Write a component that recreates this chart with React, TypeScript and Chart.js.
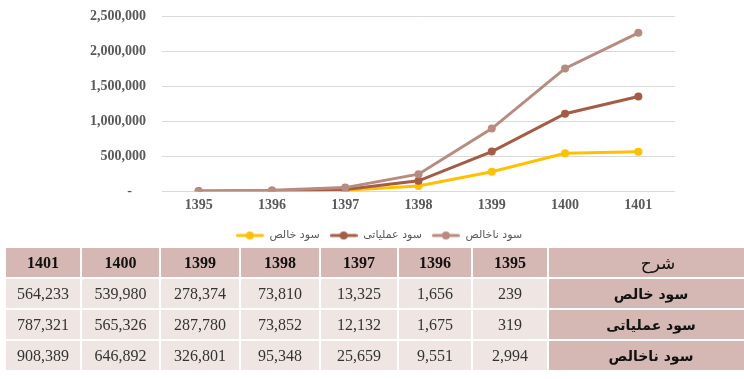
import React, { useEffect, useRef } from "react";
import { Chart, registerables } from "chart.js";

Chart.register(...registerables);

const categories = ["1395", "1396", "1397", "1398", "1399", "1400", "1401"];
const netProfit = [239, 1656, 13325, 73810, 278374, 539980, 564233];
const operatingProfit = [319, 1675, 12132, 73852, 287780, 565326, 787321];
const grossProfit = [2994, 9551, 25659, 95348, 326801, 646892, 908389];
const seriesNames = ["سود خالص", "سود عملیاتی", "سود ناخالص"];
const seriesColors = ["#FFC000", "#A45C44", "#B98A7E"];
const tableTitle = "شرح";
const yMax = 2500000;
const yStep = 500000;
const zeroLabel = "-\u2007\u2007";

const fmt = (v: number) => v.toLocaleString("en-US");

function cumulative(...arrs: number[][]) {
  const out: number[][] = [];
  let acc = arrs[0].map(() => 0);
  for (const a of arrs) {
    acc = acc.map((v, i) => v + a[i]);
    out.push(acc);
  }
  return out;
}

function legendIcon(color: string) {
  const c = document.createElement("canvas");
  c.width = 28;
  c.height = 10;
  const ctx = c.getContext("2d")!;
  ctx.strokeStyle = color;
  ctx.lineWidth = 3;
  ctx.lineCap = "round";
  ctx.beginPath();
  ctx.moveTo(1.5, 5);
  ctx.lineTo(26.5, 5);
  ctx.stroke();
  ctx.fillStyle = color;
  ctx.beginPath();
  ctx.arc(14, 5, 4, 0, Math.PI * 2);
  ctx.fill();
  return c;
}

function LineChart() {
  const ref = useRef<HTMLCanvasElement | null>(null);
  useEffect(() => {
    if (!ref.current) return;
    const raw = [netProfit, operatingProfit, grossProfit];
    const stacked = cumulative(...raw);
    const icons = seriesColors.map(legendIcon);
    const chart = new Chart(ref.current, {
      type: "line",
      data: {
        labels: categories,
        datasets: stacked.map((d, i) => ({
          label: seriesNames[i],
          data: d,
          borderColor: seriesColors[i],
          backgroundColor: seriesColors[i],
          pointBackgroundColor: seriesColors[i],
          pointBorderColor: seriesColors[i],
          borderWidth: 3,
          pointRadius: 4,
          pointBorderWidth: 0,
          tension: 0,
          order: 3 - i,
        })),
      },
      options: {
        animation: false,
        responsive: true,
        maintainAspectRatio: false,
        layout: { padding: { left: 83, right: 69, top: 16, bottom: 0 } },
        plugins: {
          tooltip: { enabled: false },
          legend: {
            position: "bottom",
            labels: {
              usePointStyle: true,
              pointStyleWidth: 28,
              boxHeight: 10,
              padding: 10,
              color: "#595959",
              font: { family: "DejaVu Sans", size: 11 },
              sort: (a: any, b: any) => a.datasetIndex - b.datasetIndex,
              generateLabels: (ch: any) => {
                const items = (Chart.defaults.plugins.legend.labels as any).generateLabels(ch);
                return items.map((it: any) => ({ ...it, pointStyle: icons[it.datasetIndex] }));
              },
            },
          },
        },
        scales: {
          x: {
            offset: true,
            grid: { display: false, drawTicks: false },
            border: { display: false },
            ticks: {
              color: "#595959",
              padding: 6,
              font: { family: "Liberation Serif", size: 14, weight: "bold" },
            },
          },
          y: {
            min: 0,
            max: yMax,
            afterFit: (s: any) => {
              s.width = 79;
            },
            grid: {
              color: "#D9D9D9",
              drawTicks: true,
              tickLength: 16,
              tickColor: "rgba(0,0,0,0)",
              lineWidth: 1,
            },
            border: { display: false },
            ticks: {
              stepSize: yStep,
              padding: 0,
              color: "#595959",
              font: { family: "Liberation Serif", size: 14, weight: "bold" },
              callback: (v: any) => (Number(v) === 0 ? zeroLabel : fmt(Number(v))),
            },
          },
        },
      },
    });
    return () => chart.destroy();
  }, []);
  return <canvas ref={ref} />;
}

export default function App() {
  const rows = [netProfit, operatingProfit, grossProfit];
  const colWidths = [76, 79, 80, 80, 78, 74, 76, 206];
  const revIdx = categories.map((_, i) => categories.length - 1 - i);
  const hdr = "#D5B8B3";
  const cellBg = "#EFE6E4";
  const cellBase: React.CSSProperties = {
    border: "2px solid #fff",
    height: 29,
    padding: 0,
    textAlign: "center",
    verticalAlign: "middle",
  };
  return (
    <div
      style={{
        position: "absolute",
        left: 0,
        top: 0,
        width: 744,
        height: 379,
        overflow: "hidden",
        background: "#fff",
      }}
    >
      <div style={{ position: "absolute", left: 0, top: 0, width: 744, height: 251 }}>
        <LineChart />
      </div>
      <table
        style={{
          position: "absolute",
          left: 4,
          top: 246,
          borderCollapse: "collapse",
          tableLayout: "fixed",
          width: colWidths.reduce((a, b) => a + b, 0),
        }}
      >
        <colgroup>
          {colWidths.map((w, i) => (
            <col key={i} style={{ width: w }} />
          ))}
        </colgroup>
        <thead>
          <tr>
            {revIdx.map((i) => (
              <th
                key={i}
                style={{
                  ...cellBase,
                  background: hdr,
                  fontFamily: "Liberation Serif",
                  fontWeight: "bold",
                  fontSize: 16,
                  color: "#111",
                }}
              >
                {categories[i]}
              </th>
            ))}
            <th
              style={{
                ...cellBase,
                background: hdr,
                fontFamily: "DejaVu Sans",
                fontWeight: "normal",
                fontSize: 17,
                color: "#111",
                paddingLeft: 14,
              }}
            >
              {tableTitle}
            </th>
          </tr>
        </thead>
        <tbody>
          {rows.map((r, ri) => (
            <tr key={ri}>
              {revIdx.map((i) => (
                <td
                  key={i}
                  style={{
                    ...cellBase,
                    background: cellBg,
                    fontFamily: "Liberation Serif",
                    fontSize: 16,
                    color: "#333",
                  }}
                >
                  {fmt(r[i])}
                </td>
              ))}
              <td
                style={{
                  ...cellBase,
                  background: hdr,
                  fontFamily: "DejaVu Sans",
                  fontWeight: "bold",
                  fontSize: 14,
                  color: "#111",
                }}
                dir="rtl"
              >
                {seriesNames[ri]}
              </td>
            </tr>
          ))}
        </tbody>
      </table>
    </div>
  );
}
